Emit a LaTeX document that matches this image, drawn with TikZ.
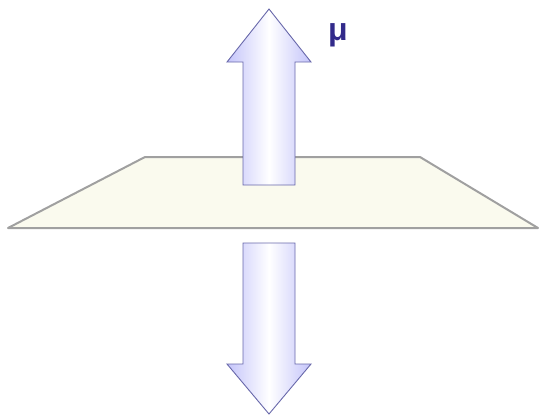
\documentclass[tikz,border=0pt]{standalone}
\usepackage{fontspec}
\setmainfont{Liberation Sans}
\definecolor{arrowfill}{RGB}{196,196,250}
\definecolor{arrowline}{RGB}{104,104,170}
\definecolor{planefill}{RGB}{250,250,238}
\definecolor{planeline}{RGB}{160,160,160}
\definecolor{labelblue}{RGB}{50,42,138}
\tikzset{
  fieldarrow/.style={draw=arrowline, line width=0.9pt, line join=miter,
    left color=arrowfill, right color=arrowfill, middle color=white},
  plane/.style={draw=planeline, line width=2pt, fill=planefill, line join=round}
}
\begin{document}
\begin{tikzpicture}[x=1pt,y=-1pt]
\useasboundingbox (0,0) rectangle (541,418);
% Lower arrow (below the plane)
\path[fieldarrow] (243,243) -- (295,243) -- (295,364) -- (311,364) -- (269,414)
  -- (227,364) -- (243,364) -- cycle;
% Plane
\path[plane] (145,157) -- (420,157) -- (538,228) -- (8,228) -- cycle;
% Upper arrow (through the plane)
\path[fieldarrow] (243,185) -- (295,185) -- (295,62) -- (311,62) -- (269,9)
  -- (227,62) -- (243,62) -- cycle;
% Label
\node[font=\bfseries\fontsize{32}{34}\selectfont, text=labelblue, inner sep=0pt] (mu) at (338,35) {μ};
\end{tikzpicture}
\end{document}
